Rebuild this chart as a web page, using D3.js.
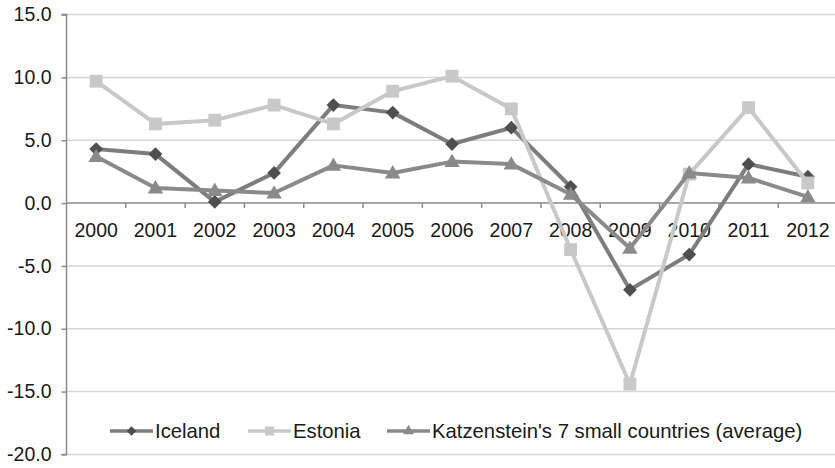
<!DOCTYPE html>
<html>
<head>
  <meta charset="utf-8">
  <script src="https://d3js.org/d3.v7.min.js"></script>
  <style>
    body { margin: 0; background: #fff; }
    svg { display: block; font-family: "Liberation Sans", Arial, sans-serif; }
  </style>
</head>
<body>
<svg id="chart"></svg>
<script>
  const years = ["2000", "2001", "2002", "2003", "2004", "2005", "2006", "2007", "2008", "2009", "2010", "2011", "2012"];
  const iceland = [4.3, 3.9, 0.1, 2.4, 7.8, 7.2, 4.7, 6.0, 1.3, -6.9, -4.1, 3.1, 2.1];
  const estonia = [9.7, 6.3, 6.6, 7.8, 6.3, 8.9, 10.1, 7.5, -3.7, -14.4, 2.3, 7.6, 1.6];
  const katz = [3.7, 1.2, 1.0, 0.8, 3.0, 2.4, 3.3, 3.1, 0.7, -3.6, 2.4, 2.0, 0.5];
  const yTicks = [15, 10, 5, 0, -5, -10, -15, -20];
  const seriesNames = ["Iceland", "Estonia", "Katzenstein's 7 small countries (average)"];

  const W = 835, H = 468;
  const plotLeft = 66.5, plotRight = 837.5, plotTop = 14.6, plotBottom = 454.4;

  const svg = d3.select("#chart").attr("width", W).attr("height", H);

  const x = d3.scaleBand().domain(years).range([plotLeft, plotRight]);
  const y = d3.scaleLinear().domain([-20, 15]).range([plotBottom, plotTop]);

  // gridlines
  svg.append("g")
    .selectAll("line")
    .data(yTicks.filter(d => d !== 0))
    .join("line")
    .attr("x1", plotLeft).attr("x2", plotRight)
    .attr("y1", d => y(d)).attr("y2", d => y(d))
    .attr("stroke", "#d6d6d6")
    .attr("stroke-width", 1.5);

  // y axis
  const yAxis = svg.append("g")
    .attr("transform", `translate(${plotLeft},0)`)
    .call(d3.axisLeft(y).tickValues(yTicks).tickFormat(d3.format(".1f")).tickSize(5).tickPadding(10));
  yAxis.select(".domain").attr("stroke", "#8a8a8a").attr("stroke-width", 1.5)
    .attr("d", `M-5,${y(15)}H0V${y(-20)}H-5`);
  yAxis.selectAll(".tick line").attr("stroke", "#8a8a8a").attr("stroke-width", 1.5);
  yAxis.selectAll(".tick text")
    .attr("fill", "#1a1a1a")
    .style("font-size", "19.5px")
    .text(d => d3.format(".1f")(d).replace("\u2212", "-"));

  // x axis at zero
  const xAxis = svg.append("g")
    .attr("transform", `translate(0,${y(0)})`)
    .call(d3.axisBottom(x).tickSize(0).tickPadding(20));
  xAxis.select(".domain").attr("stroke", "#8a8a8a").attr("stroke-width", 1.5)
    .attr("d", `M${plotLeft},0H${plotRight}`);
  xAxis.selectAll(".tick text").attr("fill", "#1a1a1a").style("font-size", "19.5px");
  svg.append("g")
    .selectAll("line")
    .data(years.slice(1))
    .join("line")
    .attr("x1", d => x(d)).attr("x2", d => x(d))
    .attr("y1", y(0)).attr("y2", y(0) + 5)
    .attr("stroke", "#8a8a8a").attr("stroke-width", 1.5);

  const cx = d => x(d) + x.bandwidth() / 2;
  const line = d3.line().x((d, i) => cx(years[i])).y(d => y(d));

  const series = [
    { name: seriesNames[0], values: iceland, stroke: "#7d7d7d", fill: "#4f4f4f", sym: d3.symbolDiamond2, size: 120 },
    { name: seriesNames[1], values: estonia, stroke: "#c8c8c8", fill: "#c8c8c8", sym: d3.symbolSquare2, size: 210 },
    { name: seriesNames[2], values: katz, stroke: "#8a8a8a", fill: "#8a8a8a", sym: d3.symbolTriangle2, size: 170 }
  ];

  series.forEach(s => {
    svg.append("path")
      .datum(s.values)
      .attr("d", line)
      .attr("fill", "none")
      .attr("stroke", s.stroke)
      .attr("stroke-width", 4)
      .attr("stroke-linejoin", "round");
    svg.append("g")
      .selectAll("path")
      .data(s.values)
      .join("path")
      .attr("transform", (d, i) => `translate(${cx(years[i])},${y(d) + (s.sym === d3.symbolTriangle2 ? 1 : 0)})`)
      .attr("d", d3.symbol().type(s.sym).size(s.size)())
      .attr("fill", s.fill);
  });

  // legend
  const legendX = [110, 248, 387];
  const legendY = 431;
  const lg = svg.append("g")
    .selectAll("g")
    .data(series)
    .join("g")
    .attr("transform", (d, i) => `translate(${legendX[i]},${legendY})`);
  lg.append("line")
    .attr("x1", 0).attr("x2", 43)
    .attr("stroke", d => d.stroke).attr("stroke-width", 3.5);
  lg.append("path")
    .attr("transform", d => `translate(21.5,${d.sym === d3.symbolTriangle2 ? 0 : 0})`)
    .attr("d", d => d3.symbol().type(d.sym).size(d.size * 0.5)())
    .attr("fill", d => d.fill);
  lg.append("text")
    .attr("x", 45)
    .attr("y", 6.5)
    .attr("fill", "#1a1a1a")
    .style("font-size", "20.3px")
    .text(d => d.name);
</script>
</body>
</html>
